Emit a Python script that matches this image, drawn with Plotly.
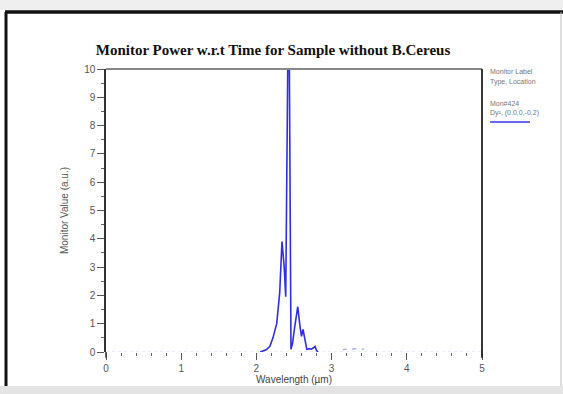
import plotly.graph_objects as go

# Data
wavelength = [2.05, 2.09, 2.13, 2.18, 2.22, 2.27, 2.31, 2.34, 2.37, 2.39, 2.40,
              2.43, 2.46, 2.48, 2.51, 2.53, 2.55, 2.58, 2.60, 2.62, 2.64, 2.67,
              2.70, 2.73, 2.76, 2.78, 2.80, 2.82]
power = [0.0, 0.05, 0.08, 0.2, 0.5, 1.0, 2.1, 3.9, 3.0, 1.95, 5.4,
         14.0, 0.1, 0.3, 0.9, 1.3, 1.6, 0.9, 0.55, 0.8, 0.5, 0.1,
         0.12, 0.1, 0.15, 0.2, 0.05, 0.0]
blip_x = [3.15, 3.2, None, 3.27, 3.33, None, 3.4, 3.43]
blip_y = [0.08, 0.1, None, 0.1, 0.12, None, 0.1, 0.1]
base_x = [0, 5]
base_y = [0, 0]
x_ticks = [0, 1, 2, 3, 4, 5]
y_ticks = [0, 1, 2, 3, 4, 5, 6, 7, 8, 9, 10]

W, H = 563, 394
L, R, T, B = 106, 81, 69, 42
pw, ph = W - L - R, H - T - B

def px(x):
    return (x - L) / pw

def py(y):
    return (H - B - y) / ph

fig = go.Figure()
fig.add_trace(go.Scatter(x=base_x, y=base_y, mode="lines",
                         line=dict(color="#d4dbf2", width=1, dash="dot"),
                         hoverinfo="skip", showlegend=False))
fig.add_trace(go.Scatter(x=blip_x, y=blip_y, mode="lines",
                         line=dict(color="#9aa6e8", width=1.2),
                         showlegend=False))
fig.add_trace(go.Scatter(x=wavelength, y=power, mode="lines",
                         line=dict(color="#2f2fe0", width=1.6),
                         showlegend=False))

tick_font = dict(family="Liberation Sans, Arial, sans-serif", size=10, color="#555")

fig.update_layout(
    width=W, height=H,
    margin=dict(l=L, r=R, t=T, b=B),
    paper_bgcolor="white", plot_bgcolor="white",
    title=dict(text="<b>Monitor Power w.r.t Time for Sample without B.Cereus</b>",
               x=(273) / W, xanchor="center", y=1 - 50 / H, yanchor="middle",
               yref="container", xref="container",
               font=dict(family="Liberation Serif, Times New Roman, serif", size=15, color="#111")),
    xaxis=dict(range=[0, 5], tickvals=x_ticks, ticks="outside", ticklen=7,
               tickcolor="#555", tickwidth=1.2, showgrid=False, zeroline=False,
               showline=False, tickfont=tick_font,
               minor=dict(dtick=0.2, ticks="outside", ticklen=3, tickcolor="#666"),
               title=dict(text="Wavelength (µm)", standoff=2,
                          font=dict(family="Liberation Sans, Arial, sans-serif", size=10, color="#444"))),
    yaxis=dict(range=[0, 10], tickvals=y_ticks, ticks="outside", ticklen=7,
               tickcolor="#555", showgrid=False, zeroline=False,
               showline=True, linecolor="#333", linewidth=1.5, tickfont=tick_font,
               minor=dict(dtick=0.5, ticks="outside", ticklen=3, tickcolor="#666"),
               title=dict(text="Monitor Value (a.u.)", standoff=14,
                          font=dict(family="Liberation Sans, Arial, sans-serif", size=10, color="#555"))),
)

shapes = [
    # top plot frame (gray) and right frame (black)
    dict(type="line", xref="paper", yref="paper", x0=0, x1=1, y0=1, y1=1,
         line=dict(color="#888", width=2)),
    dict(type="line", xref="paper", yref="paper", x0=1, x1=1, y0=-0.02, y1=1,
         line=dict(color="#222", width=1.8)),
    dict(type="line", xref="paper", yref="paper", x0=0, x1=0, y0=-0.02, y1=0,
         line=dict(color="#333", width=1.5)),
    # outer frame
    dict(type="rect", xref="paper", yref="paper", x0=px(0), x1=px(W), y0=py(0), y1=py(10),
         fillcolor="#efefef", line=dict(width=0), layer="below"),
    dict(type="rect", xref="paper", yref="paper", x0=px(0), x1=px(W), y0=py(386), y1=py(H),
         fillcolor="#e4e4e4", line=dict(width=0), layer="below"),
    dict(type="line", xref="paper", yref="paper", x0=px(5), x1=px(W), y0=py(12), y1=py(12),
         line=dict(color="#111", width=3.5)),
    dict(type="line", xref="paper", yref="paper", x0=px(6), x1=px(6), y0=py(12), y1=py(386),
         line=dict(color="#111", width=3)),
    dict(type="line", xref="paper", yref="paper", x0=px(561), x1=px(561), y0=py(12), y1=py(386),
         line=dict(color="#bbb", width=1)),
    # legend swatch
    dict(type="line", xref="paper", yref="paper", x0=px(490), x1=px(530), y0=py(122), y1=py(122),
         line=dict(color="#6a6ae8", width=2)),
]
fig.update_layout(shapes=shapes)

legend_font = dict(family="Liberation Sans, Arial, sans-serif", size=7, color="#777")
ann = [
    ("Monitor Label", 72), ("Type, Location", 82),
    ("Mon#424", 103), ("Dy², (0.0,0,-0.2)", 113),
]
for text, yy in ann:
    fig.add_annotation(text=text, xref="paper", yref="paper", x=px(488), y=py(yy),
                       xanchor="left", yanchor="middle", showarrow=False, font=legend_font)

fig.write_html("out.html")
